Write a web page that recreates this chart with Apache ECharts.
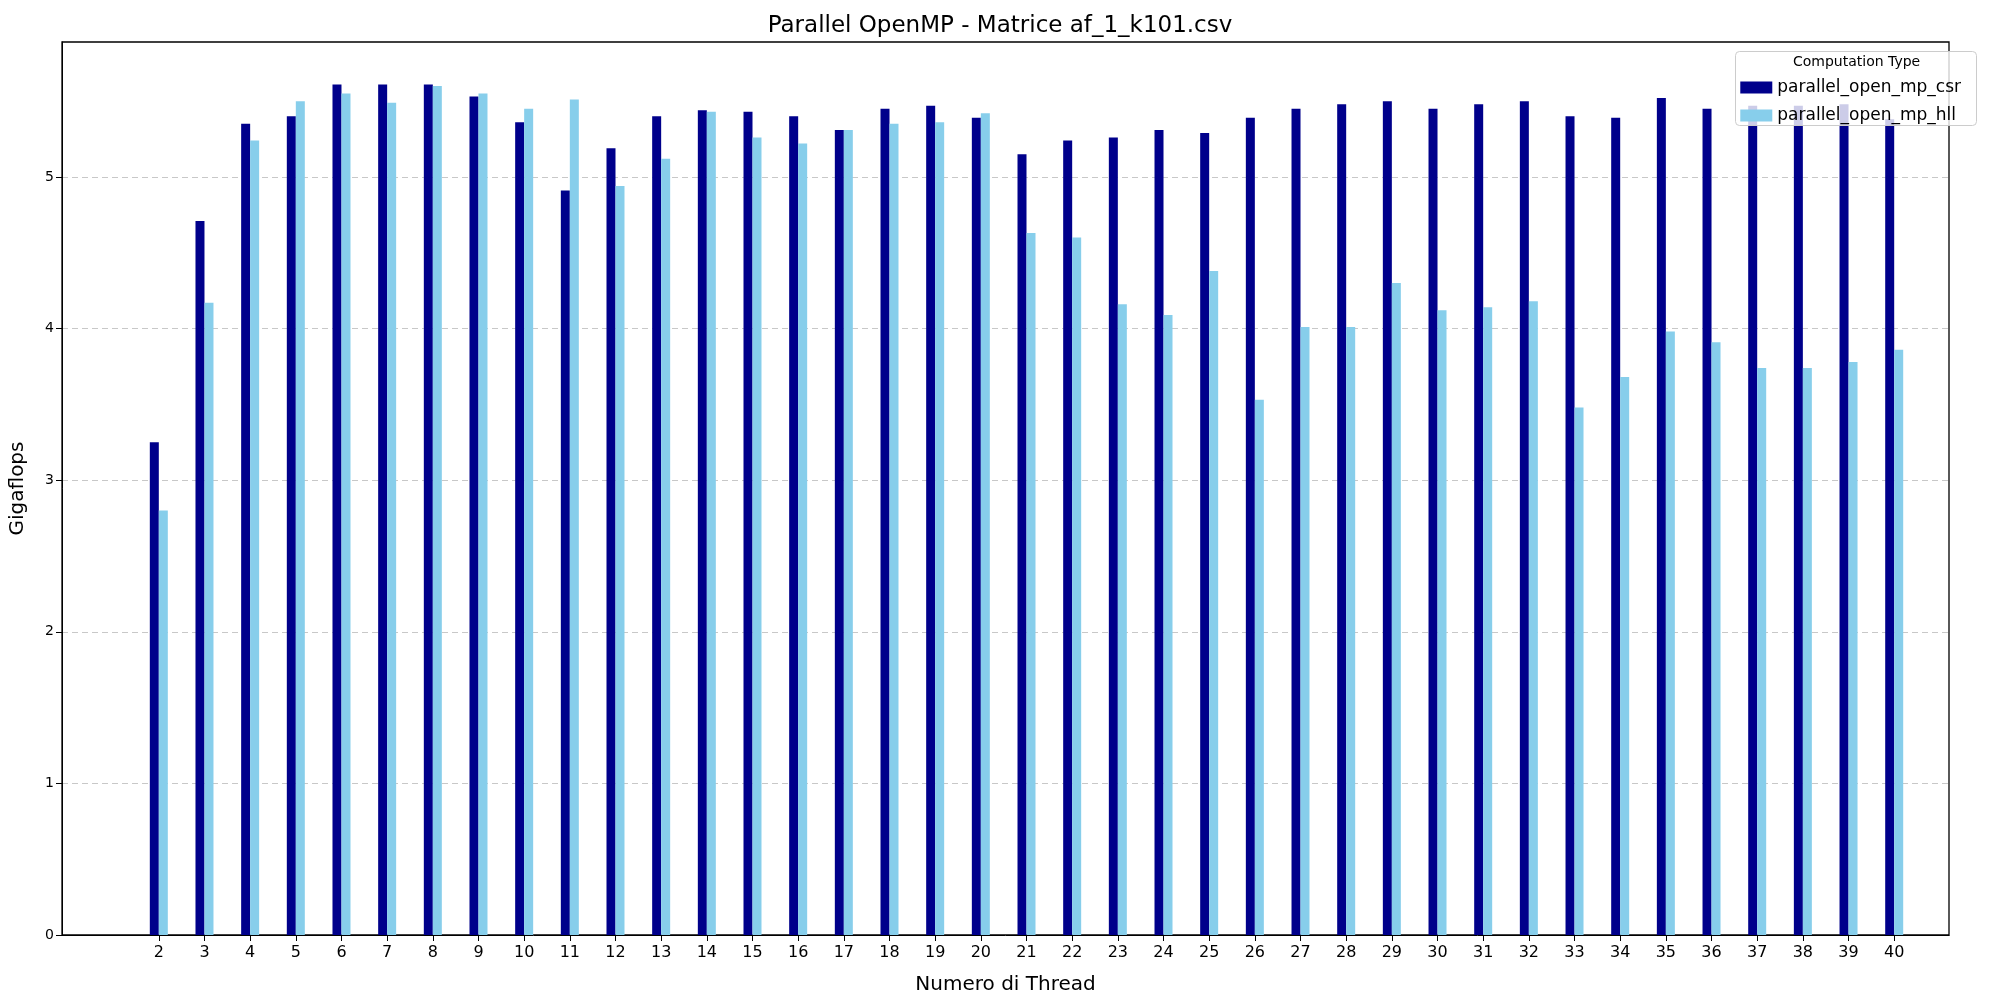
<!DOCTYPE html>
<html>
<head>
<meta charset="utf-8">
<script src="https://cdn.jsdelivr.net/npm/echarts@6/dist/echarts.min.js"></script>
<style>html,body{margin:0;padding:0;background:#fff}#chart{width:2000px;height:1000px}</style>
</head>
<body>
<div id="chart"></div>
<script>
const threads = [2,3,4,5,6,7,8,9,10,11,12,13,14,15,16,17,18,19,20,21,22,23,24,25,26,27,28,29,30,31,32,33,34,35,36,37,38,39,40]
const csrValues = [3.25,4.71,5.35,5.40,5.61,5.61,5.61,5.53,5.36,4.91,5.19,5.40,5.44,5.43,5.40,5.31,5.45,5.47,5.39,5.15,5.24,5.26,5.31,5.29,5.39,5.45,5.48,5.50,5.45,5.48,5.50,5.40,5.39,5.52,5.45,5.47,5.47,5.48,5.38]
const hllValues = [2.80,4.17,5.24,5.50,5.55,5.49,5.60,5.55,5.45,5.51,4.94,5.12,5.43,5.26,5.22,5.31,5.35,5.36,5.42,4.63,4.60,4.16,4.09,4.38,3.53,4.01,4.01,4.30,4.12,4.14,4.18,3.48,3.68,3.98,3.91,3.74,3.74,3.78,3.86]
const yTicks = [0,1,2,3,4,5]
;(function () {
  const chart = echarts.init(document.getElementById('chart'))
  const font = 'DejaVu Sans'
  const pair = (vals) => threads.map((t, i) => [t, vals[i]])
  chart.setOption({
    animation: false,
    textStyle: {fontFamily: font},
    title: {text: 'Parallel OpenMP - Matrice af_1_k101.csv', left: 'center', top: 10,
      textStyle: {fontSize: 23, fontWeight: 'normal', color: '#000', fontFamily: font}},
    grid: {left: 59, right: 51, top: 42, bottom: 65, show: true, borderColor: '#000', borderWidth: 1.3},
    xAxis: {
      type: 'value', min: -0.12, max: 41.2,
      name: 'Numero di Thread', nameLocation: 'middle', nameGap: 40,
      nameTextStyle: {fontSize: 20, color: '#000'},
      axisLine: {show: true, onZero: false, lineStyle: {color: '#000'}},
      axisTick: {show: true, length: 6, customValues: threads, lineStyle: {color: '#000'}},
      axisLabel: {fontSize: 16, color: '#000', margin: 10, customValues: threads},
      splitLine: {show: false},
    },
    yAxis: {
      type: 'value', min: 0, max: 5.89,
      name: 'Gigaflops', nameLocation: 'middle', nameGap: 34,
      nameTextStyle: {fontSize: 20, color: '#000'},
      axisLine: {show: true, onZero: false, lineStyle: {color: '#000'}},
      axisTick: {show: true, length: 6, customValues: yTicks, lineStyle: {color: '#000'}},
      axisLabel: {fontSize: 14, color: '#000', customValues: yTicks},
      splitLine: {show: true, lineStyle: {color: '#c8c8c8', type: [6, 4]}},
    },
    legend: {
      right: 34, top: 74, orient: 'vertical', itemWidth: 32, itemHeight: 12, itemGap: 11, z: 20,
      icon: 'rect', textStyle: {fontSize: 17, color: '#000'},
      data: ['parallel_open_mp_csr', 'parallel_open_mp_hll'],
    },
    graphic: [
      {type: 'rect', right: 23, top: 51, z: 10,
        shape: {width: 241, height: 74, r: 4},
        style: {fill: 'rgba(255,255,255,0.8)', stroke: '#ccc', lineWidth: 1}},
      {type: 'text', left: 1793, top: 55, z: 21,
        style: {text: 'Computation Type', fontSize: 14, fill: '#000', fontFamily: font}},
    ],
    series: [
      {name: 'parallel_open_mp_csr', type: 'bar', data: pair(csrValues), barWidth: 9, barGap: '0%',
        itemStyle: {color: '#00008b'}},
      {name: 'parallel_open_mp_hll', type: 'bar', data: pair(hllValues), barWidth: 9, barGap: '0%',
        itemStyle: {color: '#87ceeb'}},
    ],
  })
})()
</script>
</body>
</html>
